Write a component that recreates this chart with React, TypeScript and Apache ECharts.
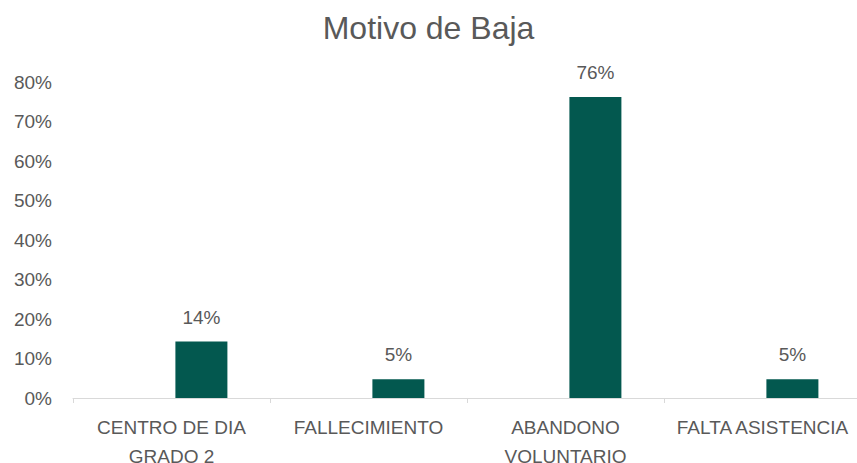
import React, { useEffect, useRef } from "react";
import * as echarts from "echarts";

const TITLE = "Motivo de Baja";
const categories = ["CENTRO DE DIA\nGRADO 2", "FALLECIMIENTO", "ABANDONO\nVOLUNTARIO", "FALTA ASISTENCIA"];
const percentValues = [14.29, 4.76, 76.19, 4.76];
const spacerValues = [null, null, null, null];
const yTicks = { min: 0, max: 80, interval: 10 };

const FONT = "'Liberation Sans', Arial, sans-serif";

export default function App() {
  const ref = useRef<HTMLDivElement>(null);
  useEffect(() => {
    document.body.style.margin = "0";
    if (!ref.current) return;
    const chart = echarts.init(ref.current, null, { renderer: "svg" });
    chart.setOption({
      animation: false,
      backgroundColor: "#ffffff",
      textStyle: { fontFamily: FONT },
      title: {
        text: TITLE,
        left: "center",
        top: 7,
        textStyle: { fontFamily: FONT, fontSize: 32, fontWeight: "normal", color: "#595959" },
      },
      grid: {
        left: 73,
        top: 82,
        bottom: 65,
        width: 788,
        containLabel: false,
        outerBoundsMode: "none",
      },
      xAxis: {
        type: "category",
        data: categories,
        axisLine: { show: true, lineStyle: { color: "#d9d9d9", width: 1 } },
        axisTick: { show: true, length: 5, lineStyle: { color: "#d9d9d9" } },
        axisLabel: {
          interval: 0,
          fontFamily: FONT,
          fontSize: 19,
          color: "#595959",
          margin: 15,
          lineHeight: 29,
        },
      },
      yAxis: {
        type: "value",
        min: yTicks.min,
        max: yTicks.max,
        interval: yTicks.interval,
        splitLine: { show: false },
        axisLine: { show: false },
        axisTick: { show: false },
        axisLabel: {
          formatter: "{value}%",
          fontFamily: FONT,
          fontSize: 19,
          color: "#595959",
          margin: 21,
        },
      },
      series: [
        {
          type: "bar",
          name: "spacer",
          data: spacerValues,
          barWidth: 52,
          barGap: "15%",
          silent: true,
        },
        {
          type: "bar",
          name: TITLE,
          data: percentValues,
          barWidth: 52,
          barGap: "15%",
          itemStyle: { color: "#03584F" },
          label: {
            show: true,
            position: "top",
            distance: 15,
            fontFamily: FONT,
            fontSize: 19,
            color: "#595959",
            formatter: (p: any) => Math.round(p.value) + "%",
          },
        },
      ],
    });
    return () => chart.dispose();
  }, []);
  return <div ref={ref} style={{ width: 857, height: 463 }} />;
}
